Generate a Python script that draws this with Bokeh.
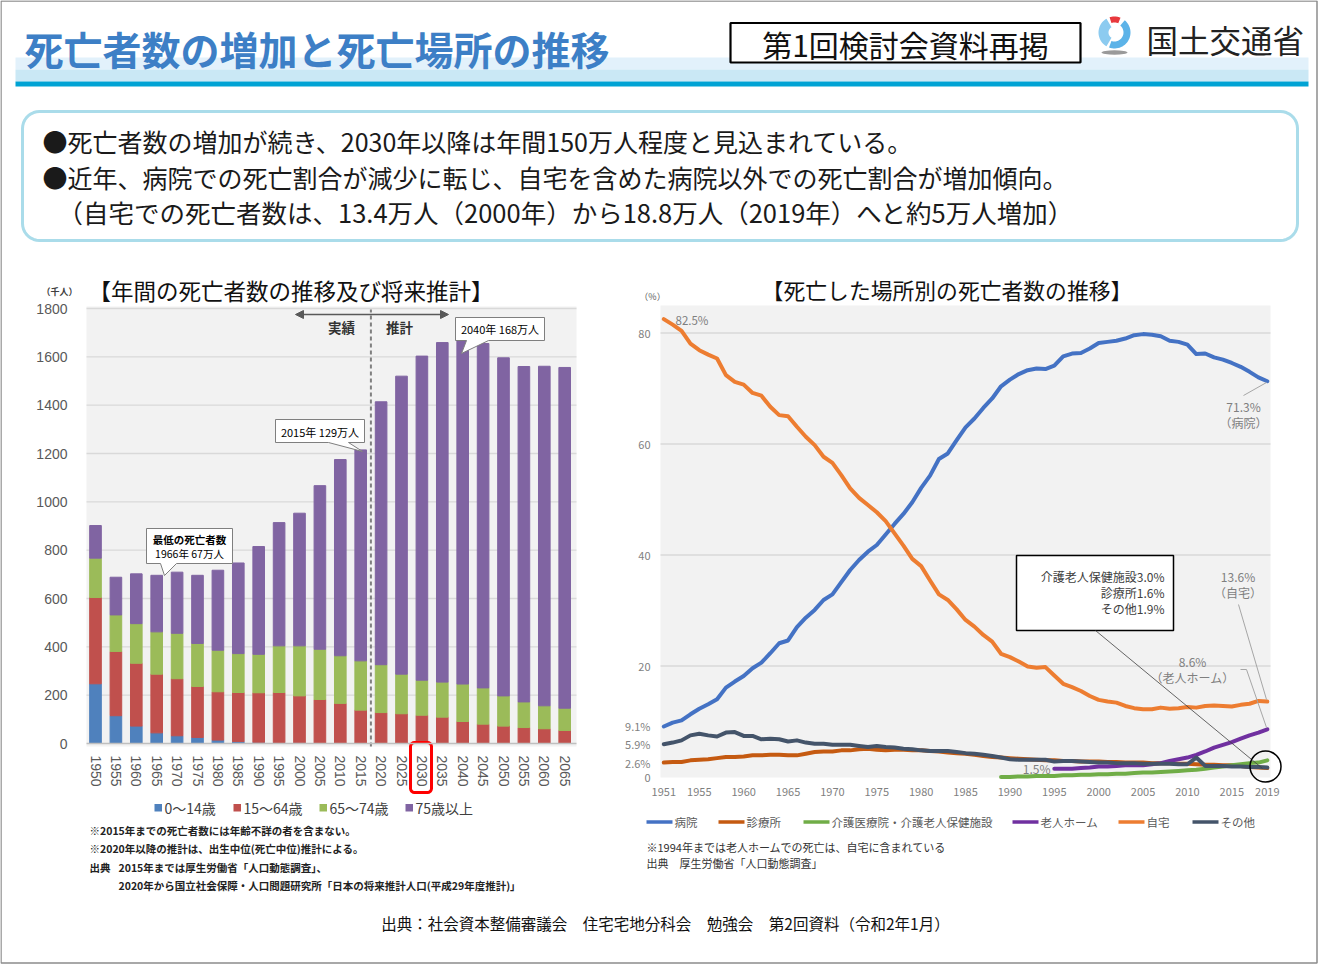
import numpy as np
from bokeh.plotting import figure
from bokeh.models import Range1d, LinearAxis, FixedTicker, ColumnDataSource, Arrow, NormalHead
from bokeh.core.properties import value
from bokeh.embed import file_html
from bokeh.resources import INLINE

# ---------------- data: annual deaths by age group (thousand persons) ----------------
death_years = [1950, 1955, 1960, 1965, 1970, 1975, 1980, 1985, 1990, 1995, 2000, 2005,
               2010, 2015, 2020, 2025, 2030, 2035, 2040, 2045, 2050, 2055, 2060, 2065]
age_0_14 = [247, 115, 72, 44, 32, 25, 14, 8, 5, 4, 3, 2, 2, 2, 1, 1, 1, 1, 1, 1, 1, 1, 1, 1]
age_15_64 = [357, 266, 260, 243, 236, 211, 200, 203, 205, 207, 194, 180,
             164, 136, 127, 122, 116, 108, 90, 79, 71, 65, 60, 53]
age_65_74 = [163, 151, 164, 175, 188, 178, 172, 161, 159, 193, 207, 208,
             197, 204, 198, 164, 145, 145, 155, 150, 125, 106, 95, 92]
age_75_over = [135, 156, 206, 234, 253, 282, 331, 375, 446, 510, 549, 677,
               812, 873, 1088, 1233, 1341, 1405, 1433, 1425, 1399, 1388, 1405, 1410]
age_labels = ["0～14歳", "15～64歳", "65～74歳", "75歳以上"]
death_ticks = [0, 200, 400, 600, 800, 1000, 1200, 1400, 1600, 1800]

# ---------------- data: place of death (%) ----------------
place_years = list(range(1951, 2020))
hospital = [9.1, 9.8, 10.2, 11.3, 12.3, 13.1, 14.0, 16.1, 17.2, 18.2,
            19.6, 20.6, 22.3, 24.1, 24.6, 27.0, 28.7, 30.1, 31.9, 32.9,
            35.1, 37.3, 39.1, 40.6, 41.8, 43.7, 45.6, 47.4, 49.5, 52.1,
            54.3, 57.3, 58.3, 60.7, 63.0, 64.6, 66.5, 68.2, 70.4, 71.6,
            72.6, 73.3, 73.6, 73.5, 74.1, 75.8, 76.3, 76.4, 77.2, 78.2,
            78.4, 78.6, 79.0, 79.6, 79.8, 79.7, 79.4, 78.6, 78.4, 77.9,
            76.2, 76.3, 75.6, 75.2, 74.6, 73.9, 73.0, 72.0, 71.3]
clinic = [2.6, 2.7, 2.7, 3.0, 3.1, 3.2, 3.4, 3.6, 3.6, 3.7,
          3.9, 3.9, 4.0, 4.0, 3.9, 3.9, 4.2, 4.5, 4.6, 4.6,
          4.8, 4.8, 5.0, 5.1, 4.9, 4.8, 4.9, 4.9, 4.8, 4.8,
          4.7, 4.6, 4.4, 4.3, 4.2, 4.0, 3.8, 3.6, 3.5, 3.4,
          3.3, 3.2, 3.1, 3.0, 3.0, 2.9, 2.9, 2.8, 2.8, 2.8,
          2.7, 2.7, 2.6, 2.6, 2.6, 2.5, 2.5, 2.5, 2.4, 2.4,
          2.3, 2.2, 2.2, 2.1, 2.1, 2.0, 1.8, 1.7, 1.6]
home = [82.5, 81.5, 80.4, 78.1, 76.9, 76.1, 75.4, 72.4, 71.2, 70.7,
        69.2, 68.7, 66.7, 65.2, 65.0, 63.1, 61.3, 59.8, 57.7, 56.6,
        54.4, 52.0, 50.3, 49.0, 47.7, 46.1, 43.9, 41.7, 39.3, 38.0,
        35.4, 32.9, 31.9, 30.2, 28.3, 27.1, 25.6, 24.4, 22.2, 21.6,
        20.8, 19.9, 19.7, 19.8, 18.3, 16.8, 16.2, 15.5, 14.6, 13.9,
        13.6, 13.4, 12.8, 12.4, 12.2, 12.2, 12.5, 12.3, 12.4, 12.6,
        12.5, 12.8, 12.9, 12.8, 12.7, 13.0, 13.2, 13.7, 13.6]
other = [5.9, 6.2, 6.6, 7.5, 7.8, 7.5, 7.3, 8.0, 8.1, 7.4,
         7.4, 6.8, 6.9, 6.8, 6.4, 6.6, 6.2, 6.0, 6.0, 5.8,
         5.8, 5.8, 5.6, 5.4, 5.6, 5.4, 5.3, 5.1, 5.0, 4.8,
         4.7, 4.7, 4.7, 4.5, 4.3, 4.2, 4.0, 3.8, 3.5, 3.2,
         3.1, 3.1, 3.1, 3.1, 2.8, 2.9, 2.9, 2.8, 2.7, 2.6,
         2.6, 2.5, 2.5, 2.5, 2.4, 2.4, 2.4, 2.4, 2.3, 2.3,
         3.5, 2.0, 2.0, 2.0, 1.9, 1.9, 1.8, 1.8, 1.7]
care_years = list(range(1989, 2020))
care_facility = [0.0, 0.0, 0.1, 0.1, 0.2, 0.2, 0.2, 0.3, 0.3, 0.4,
                 0.4, 0.5, 0.5, 0.6, 0.6, 0.7, 0.8, 0.8, 0.9, 1.0,
                 1.1, 1.2, 1.3, 1.5, 1.7, 1.9, 2.1, 2.3, 2.5, 2.6, 3.0]
nh_years = list(range(1995, 2020))
nursing_home = [1.5, 1.5, 1.5, 1.6, 1.7, 1.9, 1.9, 2.0, 2.1, 2.1,
                2.1, 2.3, 2.5, 2.9, 3.2, 3.5, 4.0, 4.6, 5.3, 5.8,
                6.3, 6.9, 7.5, 8.0, 8.6]
place_labels = ["病院", "診療所", "介護医療院・介護老人保健施設", "老人ホーム", "自宅", "その他"]
place_xticks = [1951, 1955, 1960, 1965, 1970, 1975, 1980, 1985, 1990, 1995, 2000, 2005, 2010, 2015, 2019]
place_yticks = [0, 2.6, 5.9, 9.1, 20, 40, 60, 80]
place_ytick_text = {0: "0", 2.6: "2.6%", 5.9: "5.9%", 9.1: "9.1%", 20: "20", 40: "40", 60: "60", 80: "80"}

# ---------------- styles / calibration ----------------
W, H = 1320, 964
JP = "Noto Sans CJK JP"
AGE_COLORS = ["#4f81bd", "#c0504d", "#9bbb59", "#8064a2"]
PLACE_COLORS = ["#4472c4", "#c55a11", "#70ad47", "#7030a0", "#ed7d31", "#44546a"]

# left chart: pixel calibration
LX_PX0, LX_YR0, LX_PPY = 95.0, 1950.0, 4.08
LY_PY0, LY_PPU = 743.0, 435.0 / 1800.0
# right chart
RX_PX0, RX_YR0, RX_PPY = 663.3, 1951.0, 8.875
RY_PY0, RY_PPU = 776.5, 5.55


def lx(px):
    return LX_YR0 + (px - LX_PX0) / LX_PPY


def ly(py):
    return (LY_PY0 - py) / LY_PPU


def rx(px):
    return RX_YR0 + (px - RX_PX0) / RX_PPY


def ry(py):
    return (RY_PY0 - py) / RY_PPU


p = figure(width=W, height=H, x_range=Range1d(0, W), y_range=Range1d(H, 0),
           x_axis_location=None, y_axis_location=None, toolbar_location=None,
           output_backend="svg", min_border=0, outline_line_color=None,
           background_fill_color="white", border_fill_color="white")
p.grid.visible = False
p.extra_x_ranges = {"lx": Range1d(lx(0), lx(W)), "rx": Range1d(rx(0), rx(W))}
p.extra_y_ranges = {"ly": Range1d(ly(H), ly(0)), "ry": Range1d(ry(H), ry(0))}
L = dict(x_range_name="lx", y_range_name="ly")
R = dict(x_range_name="rx", y_range_name="ry")


def txt(x, y, s, size, color="#000000", align="left", bold=False, font=JP, **kw):
    p.text(x=[x], y=[y], text=[s], text_font=value(font), text_font_size=value(f"{size}px"),
           text_color=color, text_align=align, text_baseline="middle",
           text_font_style="bold" if bold else "normal", **kw)


def rrect(x0, y0, x1, y1, r, n=10):
    xs, ys = [], []
    for cx, cy, a0, a1 in [(x1 - r, y0 + r, -90, 0), (x1 - r, y1 - r, 0, 90),
                           (x0 + r, y1 - r, 90, 180), (x0 + r, y0 + r, 180, 270)]:
        for a in np.radians(np.linspace(a0, a1, n)):
            xs.append(cx + r * np.cos(a))
            ys.append(cy + r * np.sin(a))
    return xs, ys


def ring(cx, cy, r0, r1, a0, a1, n=30):
    a = np.radians(np.linspace(a0, a1, n))
    xs = list(cx + r1 * np.cos(a)) + list(cx + r0 * np.cos(a[::-1]))
    ys = list(cy + r1 * np.sin(a)) + list(cy + r0 * np.sin(a[::-1]))
    return xs, ys


# ---------------- page frame & header ----------------
p.quad(left=[0.5], right=[1316.5], top=[0.5], bottom=[962.5], fill_color=None,
       line_color="#8c8c8c", line_width=1.5)
p.quad(left=[15], right=[1308], top=[57], bottom=[69], fill_color="#e2f1fb", line_color=None)
p.quad(left=[15], right=[1308], top=[69], bottom=[81], fill_color="#cae8f5", line_color=None)
p.quad(left=[15], right=[1308], top=[81], bottom=[86], fill_color="#00a3d4", line_color=None)
txt(24, 47, "死亡者数の増加と死亡場所の推移", 39, color="#3d7fc6", bold=True)

p.quad(left=[730], right=[1080], top=[22.5], bottom=[62], fill_color="white",
       line_color="black", line_width=2.2)
txt(905, 43, "第1回検討会資料再掲", 30, align="center", color="#111111")

# logo
xs, ys = ring(1114, 32, 9, 16, -50, 110)
p.patch(xs, ys, fill_color="#5cb3e8", line_color=None)
xs, ys = ring(1114, 32, 6, 16, 120, 240)
p.patch(xs, ys, fill_color="#8ccbf0", line_color=None)
xs, ys = ring(1114, 32, 10, 16, 252, 292)
p.patch(xs, ys, fill_color="#e8383d", line_color=None)
p.ellipse(x=[1114], y=[52], width=26, height=4.5, fill_color="#9a9a9a", line_color=None)
txt(1146, 38, "国土交通省", 31.5, color="#222222")

# bullet box
xs, ys = rrect(22, 111, 1297, 240, 17)
p.patch(xs, ys, fill_color="white", line_color="#aadcea", line_width=3)
txt(42, 140, "●死亡者数の増加が続き、2030年以降は年間150万人程度と見込まれている。", 25, color="#1a1a1a")
txt(42, 176, "●近年、病院での死亡割合が減少に転じ、自宅を含めた病院以外での死亡割合が増加傾向。", 25, color="#1a1a1a")
txt(57, 211, "（自宅での死亡者数は、13.4万人（2000年）から18.8万人（2019年）へと約5万人増加）", 25.5, color="#1a1a1a")

# ---------------- left chart ----------------
txt(290.5, 289, "【年間の死亡者数の推移及び将来推計】", 22.5, align="center", color="#111111")
txt(59, 291, "（千人）", 9, align="center", color="#404040", bold=True)
p.quad(left=[86], right=[576], top=[306], bottom=[746], fill_color="#f2f2f2", line_color=None)
p.segment(x0=[lx(86)] * 9, y0=death_ticks[1:], x1=[lx(576)] * 9, y1=death_ticks[1:],
          line_color="#d9d9d9", line_width=1.4, **L)

src = ColumnDataSource(dict(year=death_years, a=age_0_14, b=age_15_64, c=age_65_74, d=age_75_over))
p.vbar_stack(["a", "b", "c", "d"], x="year", width=2.85, color=AGE_COLORS, source=src, **L)

# actual / projection divider
p.segment(x0=[2017.5], y0=[ly(746)], x1=[2017.5], y1=[ly(309)], line_color="#808080",
          line_width=2, line_dash="4 3", **L)
hc = "#595959"
p.add_layout(Arrow(start=NormalHead(size=8, fill_color=hc, line_color=hc),
                   end=NormalHead(size=8, fill_color=hc, line_color=hc),
                   x_start=295, y_start=314, x_end=448, y_end=314, line_color=hc, line_width=1.6))
txt(341, 326, "実績", 13.5, align="center", color="#333333", bold=True)
txt(399, 326, "推計", 13.5, align="center", color="#333333", bold=True)


def callout(l, t, r, b, pb0, pb1, tip):
    xs = [l, r, r, pb1, tip[0], pb0, l]
    ys = [t, t, b, b, tip[1], b, b]
    p.patch(xs, ys, fill_color="white", line_color="#7f7f7f", line_width=1)


callout(275, 419, 364, 442, 328, 348, (362, 451))
txt(319.5, 431, "2015年 129万人", 11, align="center")
callout(455, 317, 544, 340, 466, 488, (461, 353))
txt(499.5, 328.5, "2040年 168万人", 11, align="center")
callout(146, 528, 232, 563, 160, 176, (164, 575))
txt(189, 539, "最低の死亡者数", 10.5, align="center", bold=True)
txt(189, 553, "1966年 67万人", 10.5, align="center")

ax_ly = LinearAxis(fixed_location=lx(86), ticker=FixedTicker(ticks=death_ticks),
                   axis_line_color=None, major_tick_line_color=None, minor_tick_line_color=None,
                   major_label_text_font_size="14px", major_label_text_color="#595959",
                   major_label_text_font="Liberation Sans", major_label_standoff=13, **L)
p.add_layout(ax_ly, "left")
ax_lx = LinearAxis(fixed_location=0, ticker=FixedTicker(ticks=death_years), bounds=(lx(86), lx(576)),
                   axis_line_color="#bfbfbf", axis_line_width=1.5, major_tick_line_color=None,
                   minor_tick_line_color=None, major_label_orientation="vertical",
                   major_label_text_font_size="14px", major_label_text_color="#595959",
                   major_label_text_font="Liberation Sans", major_label_standoff=6, **L)
p.add_layout(ax_lx, "below")

xs, ys = rrect(410, 742, 431, 792, 4, 5)
p.patch(xs, ys, fill_color=None, line_color="#ff0000", line_width=3)

# legend
for sx, tx, lab, col in zip([154, 233, 319, 405], [164, 243, 329, 415], age_labels, AGE_COLORS):
    p.quad(left=[sx], right=[sx + 7.5], top=[803.5], bottom=[811], fill_color=col, line_color=None)
    txt(tx, 807.5, lab, 14, color="#404040")

txt(89, 830, "※2015年までの死亡者数には年齢不詳の者を含まない。", 10.5, bold=True, color="#222222")
txt(89, 848, "※2020年以降の推計は、出生中位(死亡中位)推計による。", 10.5, bold=True, color="#222222")
txt(89, 867, "出典", 10.5, bold=True, color="#222222")
txt(118, 867, "2015年までは厚生労働省「人口動態調査」、", 10.5, bold=True, color="#222222")
txt(118, 885, "2020年から国立社会保障・人口問題研究所「日本の将来推計人口(平成29年度推計)」", 10.5, bold=True, color="#222222")

# ---------------- right chart ----------------
txt(946.5, 289, "【死亡した場所別の死亡者数の推移】", 21.8, align="center", color="#111111")
txt(652, 296, "（%）", 9, align="center", color="#595959")
p.quad(left=[660], right=[1270], top=[305], bottom=[777], fill_color="#f2f2f2", line_color=None)
p.segment(x0=[rx(660)] * 4, y0=[20, 40, 60, 80], x1=[rx(1270)] * 4, y1=[20, 40, 60, 80],
          line_color="#d9d9d9", line_width=1.5, **R)

series = [(place_years, hospital), (place_years, clinic), (care_years, care_facility),
          (nh_years, nursing_home), (place_years, home), (place_years, other)]
for (xv, yv), col in zip(series, PLACE_COLORS):
    p.line(x=xv, y=yv, line_color=col, line_width=4, line_join="round", line_cap="round", **R)

ax_ry = LinearAxis(fixed_location=rx(660), ticker=FixedTicker(ticks=place_yticks),
                   major_label_overrides=place_ytick_text,
                   axis_line_color=None, major_tick_line_color=None, minor_tick_line_color=None,
                   major_label_text_font_size="11px", major_label_text_color="#7f7f7f",
                   major_label_text_font=JP, major_label_standoff=4, **R)
p.add_layout(ax_ry, "left")
ax_rx = LinearAxis(fixed_location=0, ticker=FixedTicker(ticks=place_xticks),
                   axis_line_color=None, major_tick_line_color=None, minor_tick_line_color=None,
                   major_label_text_font_size="11px", major_label_text_color="#7f7f7f",
                   major_label_text_font=JP, major_label_standoff=5, **R)
p.add_layout(ax_rx, "below")

ac = "#7f7f7f"
txt(675, 319, "82.5%", 11.5, color=ac)
p.segment(x0=[1243], y0=[395], x1=[1266], y1=[382], line_color="#a6a6a6", line_width=1)
txt(1243, 406, "71.3%", 12, color=ac, align="center")
txt(1243, 422, "（病院）", 12, color=ac, align="center")

p.quad(left=[1016], right=[1173], top=[555], bottom=[630], fill_color="white",
       line_color="black", line_width=1.5)
txt(1164, 576, "介護老人保健施設3.0%", 12, color="#404040", align="right")
txt(1164, 592, "診療所1.6%", 12, color="#404040", align="right")
txt(1164, 608, "その他1.9%", 12, color="#404040", align="right")
p.segment(x0=[1095], y0=[630], x1=[1262], y1=[768], line_color="#404040", line_width=0.8)

txt(1237.5, 576, "13.6%", 12, color=ac, align="center")
txt(1237.5, 592, "（自宅）", 12, color=ac, align="center")
p.segment(x0=[1238], y0=[604], x1=[1266], y1=[699], line_color="#a6a6a6", line_width=1)

txt(1192, 661, "8.6%", 12, color=ac, align="center")
txt(1192, 677, "（老人ホーム）", 12, color=ac, align="center")
p.line(x=[1240, 1246, 1266], y=[669, 669, 727], line_color="#a6a6a6", line_width=1)

txt(1050, 768, "1.5%", 12, color=ac, align="right")
p.scatter(x=[1265], y=[766], size=31, marker="circle", fill_color=None, line_color="black", line_width=1.5)

# legend
for lx0, lab, col in zip([646, 718, 803, 1012, 1118, 1192], place_labels, PLACE_COLORS):
    p.segment(x0=[lx0], y0=[821.5], x1=[lx0 + 26], y1=[821.5], line_color=col, line_width=3.5)
    txt(lx0 + 28, 821.5, lab, 11.5, color="#595959")

txt(646, 846, "※1994年までは老人ホームでの死亡は、自宅に含まれている", 11, color="#333333")
txt(646, 862, "出典　厚生労働省「人口動態調査」", 11, color="#333333")

# ---------------- footer ----------------
txt(665, 922, "出典：社会資本整備審議会　住宅宅地分科会　勉強会　第2回資料（令和2年1月）", 15.5,
    align="center", color="#111111")

open("out.html", "w").write(file_html(p, INLINE))
